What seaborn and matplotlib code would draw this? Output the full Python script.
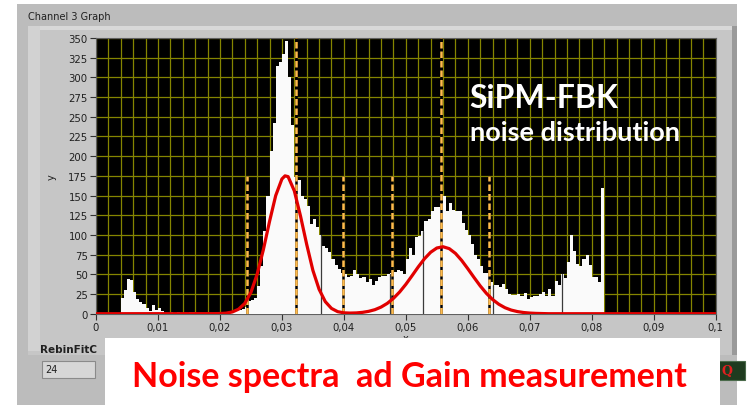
import numpy as np
import pandas as pd
import matplotlib
matplotlib.use("Agg")
import matplotlib.pyplot as plt
from matplotlib.patches import Rectangle
import seaborn as sns

# ---------------- data ----------------
bin_start = 0.004
bin_width = 0.0005
counts = [
    20, 30, 44, 43, 28, 19, 15, 12, 7, 3, 11, 5, 7, 3, 1, 0, 2, 0, 2, 0,
    0, 1, 2, 2, 1, 0, 1, 1, 1, 0, 1, 2, 2, 1, 2, 3, 4, 5, 5, 6,
    8, 16, 17, 20, 35, 60, 105, 150, 207, 242, 315, 320, 330, 346, 300, 240, 173, 170, 150, 145,
    137, 114, 120, 110, 100, 86, 84, 78, 70, 62, 57, 52, 50, 46, 48, 55, 50, 45, 46, 40,
    44, 37, 42, 46, 48, 48, 50, 52, 53, 55, 54, 50, 70, 84, 75, 97, 99, 105, 118, 120,
    131, 135, 135, 140, 150, 130, 140, 132, 130, 130, 115, 106, 100, 88, 75, 70, 60, 52, 52, 40,
    37, 37, 34, 38, 31, 25, 24, 24, 25, 22, 26, 19, 21, 22, 22, 25, 28, 22, 31, 22,
    42, 36, 50, 45, 65, 100, 80, 63, 60, 70, 75, 62, 46, 46, 40, 160,
]

fit_x = [0.000, 0.019, 0.020, 0.021, 0.022, 0.023, 0.024, 0.025, 0.026, 0.027, 0.028, 0.029,
         0.030, 0.0305, 0.031, 0.032, 0.033, 0.034, 0.035, 0.036, 0.037, 0.038, 0.039, 0.040,
         0.041, 0.042, 0.043, 0.044, 0.045, 0.046, 0.047, 0.048, 0.049, 0.050, 0.051, 0.052,
         0.053, 0.054, 0.055, 0.056, 0.057, 0.058, 0.059, 0.060, 0.061, 0.062, 0.063, 0.064,
         0.065, 0.066, 0.067, 0.068, 0.069, 0.070, 0.071, 0.072, 0.073, 0.100]
fit_y = [0.0, 0.1, 0.2, 0.7, 2.2, 5.7, 13.0, 27.0, 50.0, 81.0, 117.0, 150.0,
         171.0, 175.0, 174.0, 156.0, 124.0, 88.0, 55.0, 31.0, 15.3, 6.7, 2.6, 1.1,
         0.8, 1.0, 1.7, 3.0, 5.1, 8.4, 13.1, 19.5, 27.6, 37.3, 48.2, 59.4,
         69.7, 78.0, 83.4, 85.0, 82.6, 76.6, 67.7, 57.1, 46.0, 35.3, 25.8, 18.0,
         12.0, 7.6, 4.6, 2.7, 1.5, 0.8, 0.4, 0.2, 0.0, 0.0]

cursor_x = [0.0244, 0.0323, 0.0399, 0.0477, 0.0557, 0.0634]
cursor_top = [175, 350, 175, 175, 350, 175]

dark_x = [0.0363, 0.0474, 0.0528, 0.0640, 0.0752]
dark_top = [100, 50, 105, 37, 50]

y_ticks = list(range(0, 351, 25))
x_ticks = [0.0, 0.01, 0.02, 0.03, 0.04, 0.05, 0.06, 0.07, 0.08, 0.09, 0.1]
x_tick_labels = ["0", "0,01", "0,02", "0,03", "0,04", "0,05", "0,06", "0,07", "0,08", "0,09", "0,1"]

# ---------------- figure ----------------
sns.set_style("dark")
plt.rcParams["font.family"] = ["DejaVu Sans"]

W, H = 748, 406
fig = plt.figure(figsize=(W / 100, H / 100), dpi=100)
fig.patch.set_facecolor("white")


def prect(x0, y0, x1, y1, color, z=-5, ec="none", lw=0):
    r = Rectangle((x0 / W, 1 - y1 / H), (x1 - x0) / W, (y1 - y0) / H,
                  transform=fig.transFigure, facecolor=color, edgecolor=ec,
                  linewidth=lw, zorder=z)
    fig.add_artist(r)


# panel background
prect(17, 5, 737, 406, "#bcbcbc", z=-6)
prect(28, 27, 732, 356, "#c6c6c6", z=-5)
prect(28, 27, 732, 31, "#d8d8d8", z=-4)
prect(28, 27, 40, 352, "#d2d2d2", z=-4)
prect(732, 27, 737, 356, "#9a9a9a", z=-4)
prect(737, 5, 748, 406, "white", z=-4)
fig.text(28 / W, 1 - 17 / H, "Channel 3 Graph", fontsize=7, color="#202020",
         va="center", ha="left", zorder=2)

# small controls
fig.text(40 / W, 1 - 350 / H, "RebinFitC", fontsize=7.5, fontweight="bold",
         color="#202020", va="center", ha="left", zorder=2)
prect(42, 362, 95, 379, "#d6d6d6", z=2, ec="#8a8a8a", lw=0.8)
fig.text(45 / W, 1 - 370.5 / H, "24", fontsize=7, color="#202020",
         va="center", ha="left", zorder=3)
prect(716, 362, 745, 381, "#1f3b1f", z=2, ec="#4a6a4a", lw=0.8)
fig.text(727 / W, 1 - 371.5 / H, "Q", fontsize=9, color="#e02020",
         fontweight="bold", va="center", ha="center", zorder=3, family="DejaVu Serif")

# ---------------- axes ----------------
ax = fig.add_axes([96 / W, 1 - 314.7 / H, (715.7 - 96) / W, (314.7 - 39) / H])
ax.set_facecolor("black")

edges = [bin_start + bin_width * i for i in range(len(counts) + 1)]
centers = [e + bin_width / 2 for e in edges[:-1]]
df = pd.DataFrame({"x": centers, "n": counts})
sns.histplot(data=df, x="x", weights="n", bins=edges, color="#fafafa",
             alpha=1.0, linewidth=0, ax=ax, zorder=3)

for xv, top in zip(dark_x, dark_top):
    ax.plot([xv, xv], [0, top], color="#3a3a3a", lw=0.9, zorder=4)

for xv, top in zip(cursor_x, cursor_top):
    ax.plot([xv, xv], [0, top], color="black", lw=1.8, zorder=5, solid_capstyle="butt")
    ax.plot([xv, xv], [0, top], color="#ffbb4d", lw=1.8, zorder=6,
            dashes=(2.6, 1.2), solid_capstyle="butt")

sns.lineplot(x=fit_x, y=fit_y, color="#e10000", linewidth=2.3, sort=False,
             estimator=None, ax=ax, zorder=7)

ax.set_xlim(0, 0.1)
ax.set_ylim(0, 350)
ax.set_xticks(np.arange(0, 0.1001, 0.002), minor=True)
ax.set_yticks(y_ticks)
ax.set_xticks(x_ticks)
ax.set_xticklabels(x_tick_labels)
ax.grid(True, which="both", color="#858500", linewidth=0.9, zorder=1)
ax.set_axisbelow(True)
ax.tick_params(axis="both", which="major", length=4, width=0.8, color="#303030",
               labelsize=7.3, labelcolor="#202020", pad=2)
ax.tick_params(axis="x", which="minor", length=0)
ax.tick_params(left=True, bottom=True)
for s in ax.spines.values():
    s.set_color("#606060")
    s.set_linewidth(0.8)
ax.set_ylabel("y", fontsize=7, labelpad=8, color="#202020")
ax.set_xlabel("x", fontsize=7, labelpad=1, color="#202020")

ax.text(0.603, 0.785, "SiPM-FBK", transform=ax.transAxes, color="white",
        fontsize=23, fontweight="bold", family="Lato", va="center", ha="left", zorder=10)
ax.text(0.603, 0.66, "noise distribution", transform=ax.transAxes, color="white",
        fontsize=19.5, fontweight="bold", family="Lato", va="center", ha="left", zorder=10)

# bottom caption box
prect(105, 339, 720, 406, "white", z=5)
fig.text(409 / W, 1 - 377 / H, "Noise spectra  ad Gain measurement", color="#ff0000",
         fontsize=24.5, fontweight="bold", family="Lato", va="center", ha="center", zorder=6)

fig.savefig("out.png", dpi=100, facecolor=fig.get_facecolor())
